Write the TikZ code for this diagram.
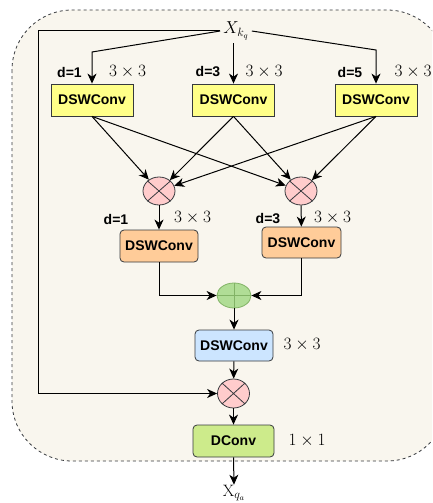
\documentclass[tikz,border=0pt]{standalone}
\usepackage{fontspec}
\setsansfont{Liberation Sans}
\usetikzlibrary{arrows.meta,shapes.geometric}
\definecolor{bgc}{HTML}{F9F6EE}
\definecolor{strk}{HTML}{36393D}
\definecolor{yel}{HTML}{FFFF88}
\definecolor{org}{HTML}{FFCC99}
\definecolor{pnk}{HTML}{FFCCCC}
\definecolor{blu}{HTML}{CCE5FF}
\definecolor{grn}{HTML}{CDEB8B}
\definecolor{sumf}{HTML}{B0DD96}
\definecolor{sums}{HTML}{82B366}
\tikzset{
  conv/.style={draw=strk, line width=0.8pt, font=\sffamily\bfseries\fontsize{14}{16}\selectfont,
    minimum width=82pt, minimum height=32pt, inner sep=0pt},
  yconv/.style={conv, fill=yel},
  oconv/.style={conv, fill=org, rounded corners=4pt, minimum width=78pt},
  bconv/.style={conv, fill=blu, rounded corners=4pt, minimum width=78pt, minimum height=31pt},
  gconv/.style={conv, fill=grn, rounded corners=4pt, minimum width=81pt},
  mult/.style={ellipse, draw=strk, line width=0.8pt, fill=pnk, minimum width=32pt, minimum height=28pt, inner sep=0pt},
  summ/.style={ellipse, draw=sums, line width=0.8pt, fill=sumf, minimum width=34pt, minimum height=25pt, inner sep=0pt},
  dlab/.style={font=\sffamily\bfseries\fontsize{14}{16}\selectfont, inner sep=0pt},
  klab/.style={font=\fontsize{16.5}{19}\selectfont, inner sep=0pt},
  arr/.style={draw=black, line width=1pt, -{Stealth[length=10pt,width=9pt,inset=3pt]}},
  ln/.style={draw=black, line width=1pt}
}
\begin{document}
\begin{tikzpicture}[x=1pt,y=-1pt]
\useasboundingbox (0,0) rectangle (432,503);
\begin{scope}
\clip (0,0) rectangle (432,503);
\draw[draw=strk, fill=bgc, line width=0.8pt, dash pattern=on 3pt off 3pt, rounded corners=60pt] (12,10) rectangle (447,461);
\end{scope}

% input
\node[klab, inner sep=3pt] (xk) at (236,31) {$X_{k_q}$};

% top boxes
\node[yconv] (b1) at (92,100) {DSWConv};
\node[yconv] (b2) at (233.5,100) {DSWConv};
\node[yconv] (b3) at (376,100) {DSWConv};
\node[dlab] (d1) at (69.5,72) {d=1};
\node[klab] (k1) at (127.5,72) {$3\times3$};
\node[dlab] (d2) at (208,72) {d=3};
\node[klab] (k2) at (264,72) {$3\times3$};
\node[dlab] (d3) at (350,72) {d=5};
\node[klab] (k3) at (413,72) {$3\times3$};

\coordinate (c1) at (92,52);
\coordinate (c3) at (376,50);
\coordinate (lc) at (38,393.5);
\draw[arr] (xk.west) -- (c1) -- (b1.north);
\draw[arr] (b2.north |- xk.south) -- (b2.north);
\draw[arr] (xk.east) -- (c3) -- (b3.north);

% multiply nodes
\node[mult] (m1) at (159,191) {};
\node[mult] (m2) at (301,191) {};
\foreach \m in {m1,m2}{
  \draw[strk, line width=0.8pt] (\m.north west) -- (\m.south east) (\m.north east) -- (\m.south west);
}
\draw[arr] (b1.south) -- (m1);
\draw[arr] (b1.south) -- (m2);
\draw[arr] (b2.south) -- (m1);
\draw[arr] (b2.south) -- (m2);
\draw[arr] (b3.south) -- (m1);
\draw[arr] (b3.south) -- (m2);

% second row
\node[oconv] (o1) at (159,246) {DSWConv};
\node[oconv, minimum width=79pt, minimum height=31pt] (o2) at (301.5,242.5) {DSWConv};
\node[dlab] (d4) at (116,219) {d=1};
\node[klab] (k4) at (192.5,218) {$3\times3$};
\node[dlab] (d5) at (268,219) {d=3};
\node[klab] (k5) at (332.5,218) {$3\times3$};
\draw[arr] (m1) -- (o1);
\draw[arr] (m2) -- (o2);

% sum
\node[summ] (s) at (234,295.5) {};
\draw[sums, line width=0.8pt] (s.north) -- (s.south) (s.west) -- (s.east);
\draw[arr] (o1.south) |- (s.west);
\draw[arr] (o2.south) |- (s.east);

% blue conv
\node[bconv] (bc) at (234,345.5) {DSWConv};
\node[klab] (k6) at (302,345) {$3\times3$};
\draw[arr] (s) -- (bc);

% final multiply
\node[mult, minimum height=29pt] (m3) at (233.5,393.5) {};
\draw[strk, line width=0.8pt] (m3.north west) -- (m3.south east) (m3.north east) -- (m3.south west);
\draw[arr] (bc) -- (m3);
\draw[arr] (xk.west) -| (lc) -- (m3.west);

% DConv
\node[gconv] (dc) at (233.5,441) {DConv};
\node[klab] (k7) at (307,441) {$1\times1$};
\draw[arr] (m3) -- (dc);

% output
\node[klab] (xq) at (234,493) {$\mathrm{X}_{q_a}$};
\draw[arr] (dc.south) -- (xq.north);
\end{tikzpicture}
\end{document}
